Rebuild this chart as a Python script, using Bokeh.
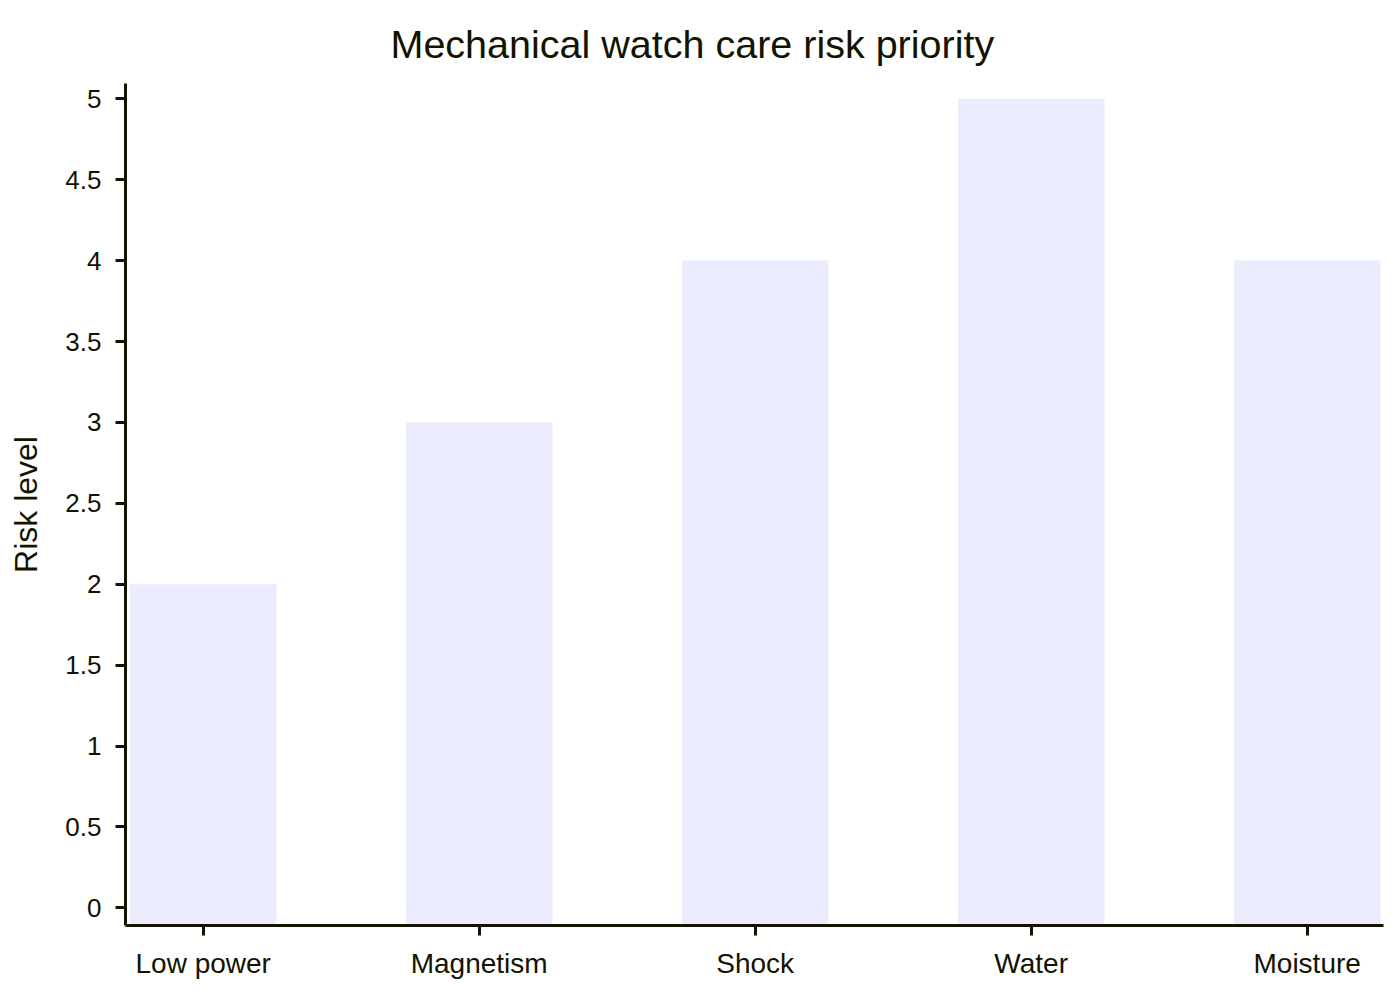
from bokeh.plotting import figure
from bokeh.models import FixedTicker, ColumnDataSource
from bokeh.embed import file_html
from bokeh.resources import INLINE

# Chart data
categories = ["Low power", "Magnetism", "Shock", "Water", "Moisture"]
risk_levels = [2, 3, 4, 5, 4]
y_ticks = [0, 0.5, 1, 1.5, 2, 2.5, 3, 3.5, 4, 4.5, 5]
y_tick_labels = ["0", "0.5", "1", "1.5", "2", "2.5", "3", "3.5", "4", "4.5", "5"]

INK = "#131300"
BAR_FILL = "#ECECFF"
FONT = "Liberation Sans"

# Value axis floor sits a little below zero; bars rise from the floor
Y_FLOOR = -0.109
Y_CEIL = 5.0946

positions = list(range(len(categories)))
source = ColumnDataSource(dict(
    x=positions,
    top=risk_levels,
    bottom=[Y_FLOOR] * len(categories),
))

p = figure(
    width=1400, height=1000,
    output_backend="svg", toolbar_location=None,
    x_range=(-0.2815, 4.2765), y_range=(Y_FLOOR, Y_CEIL),
    min_border_left=125, min_border_right=17,
    min_border_top=83, min_border_bottom=75,
    background_fill_color="white", border_fill_color="white",
)
p.outline_line_color = None
p.grid.visible = False

p.vbar(x="x", top="top", bottom="bottom", width=0.531, source=source,
       fill_color=BAR_FILL, line_color=None)

# Title
p.title.text = "Mechanical watch care risk priority"
p.title.align = "left"
p.title.offset = 265
p.title.standoff = 36
p.title.text_font = FONT
p.title.text_font_size = "39.5px"
p.title.text_font_style = "normal"
p.title.text_color = INK

# Axes styling
for ax in (p.xaxis[0], p.yaxis[0]):
    ax.axis_line_color = INK
    ax.axis_line_width = 3
    ax.major_tick_line_color = INK
    ax.major_tick_line_width = 3
    ax.major_tick_out = 10
    ax.major_tick_in = 0
    ax.minor_tick_line_color = None
    ax.major_label_text_font = FONT
    ax.major_label_text_color = INK

p.xaxis.ticker = FixedTicker(ticks=positions)
p.xaxis.major_label_overrides = {i: c for i, c in zip(positions, categories)}
p.xaxis.major_label_text_font_size = "28px"
p.xaxis.major_label_standoff = 12

p.yaxis.ticker = FixedTicker(ticks=y_ticks)
p.yaxis.major_label_overrides = {t: s for t, s in zip(y_ticks, y_tick_labels)}
p.yaxis.major_label_text_font_size = "26px"
p.yaxis.major_label_standoff = 14
p.yaxis.axis_label = "Risk level"
p.yaxis.axis_label_text_font = FONT
p.yaxis.axis_label_text_font_size = "32px"
p.yaxis.axis_label_text_font_style = "normal"
p.yaxis.axis_label_text_color = INK
p.yaxis.axis_label_standoff = 18

open("out.html", "w").write(file_html(p, INLINE))
